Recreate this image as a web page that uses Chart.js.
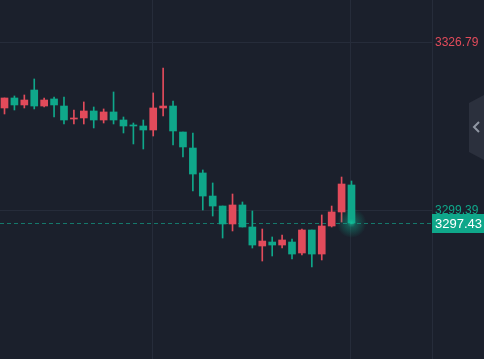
<!DOCTYPE html>
<html>
<head>
<meta charset="utf-8">
<script src="https://cdn.jsdelivr.net/npm/chart.js@4/dist/chart.umd.min.js"></script>
<style>
  html, body { margin: 0; padding: 0; background: #1b202c; }
  #wrap { width: 484px; height: 359px; }
</style>
</head>
<body>
<div id="wrap"><canvas id="kline" width="484" height="359"></canvas></div>
<script>
// Datos de velas (OHLC)
const opens  = [3316.19, 3317.82, 3316.68, 3319.12, 3316.51, 3317.66, 3316.51, 3314.39, 3314.56, 3315.70,
                3314.23, 3315.54, 3314.23, 3313.42, 3313.25, 3312.60, 3316.19, 3316.51, 3312.27, 3309.66,
                3305.59, 3301.83, 3300.20, 3297.27, 3300.37, 3296.78, 3293.68, 3294.33, 3293.84, 3294.33,
                3292.54, 3296.29, 3292.37, 3296.94, 3299.23, 3303.63];
const highs  = [3317.82, 3318.15, 3318.31, 3320.92, 3317.82, 3317.98, 3317.98, 3315.86, 3317.17, 3316.35,
                3316.03, 3318.80, 3314.72, 3313.74, 3314.23, 3318.64, 3322.71, 3317.33, 3312.27, 3312.11,
                3306.08, 3303.96, 3300.20, 3302.16, 3300.86, 3299.39, 3296.45, 3295.15, 3295.47, 3294.82,
                3296.45, 3296.29, 3298.74, 3300.20, 3304.93, 3304.28];
const lows   = [3315.21, 3315.86, 3316.19, 3316.03, 3316.35, 3314.72, 3313.58, 3313.58, 3313.58, 3312.93,
                3313.74, 3313.58, 3312.11, 3310.32, 3309.50, 3311.62, 3314.88, 3310.15, 3308.20, 3302.65,
                3299.55, 3298.57, 3294.98, 3296.13, 3296.78, 3293.35, 3291.23, 3292.05, 3293.35, 3291.56,
                3292.21, 3290.25, 3291.40, 3296.78, 3297.59, 3297.43];
const closes = [3317.82, 3316.68, 3317.49, 3316.51, 3317.49, 3316.68, 3314.23, 3314.56, 3315.70, 3314.23,
                3315.54, 3314.23, 3313.25, 3313.25, 3312.60, 3316.19, 3316.51, 3312.44, 3309.83, 3305.42,
                3301.83, 3300.20, 3297.27, 3300.37, 3296.78, 3293.84, 3294.49, 3293.84, 3294.66, 3292.37,
                3296.29, 3292.37, 3296.94, 3299.23, 3303.79, 3297.43];

// Etiquetas del eje de precios y líneas verticales de tiempo
const priceTicks = [3326.79, 3299.39];
const timeGridAt = [14.88, 34.85];

const UP = '#e24b5b';     // rojo = sube
const DOWN = '#0fa78a';   // verde = baja
const GRID = '#262c3a';

const idx = opens.map((_, i) => i);
const colorOf = i => closes[i] >= opens[i] ? UP : DOWN;
const lastClose = closes[closes.length - 1];

// Línea de precio actual, brillo y etiqueta
const priceMarker = {
    id: 'priceMarker',
    beforeDatasetsDraw(chart) {
        const { ctx, chartArea, scales } = chart;
        const y = Math.round(scales.y.getPixelForValue(lastClose)) + 0.5;
        ctx.save();
        ctx.strokeStyle = 'rgba(20,150,128,0.75)';
        ctx.lineWidth = 1;
        ctx.setLineDash([4, 3]);
        ctx.beginPath();
        ctx.moveTo(chartArea.left, y);
        ctx.lineTo(chartArea.right, y);
        ctx.stroke();
        ctx.restore();
    },
    afterDraw(chart) {
        const { ctx, chartArea, scales } = chart;
        const y = scales.y.getPixelForValue(lastClose);
        const x = scales.x.getPixelForValue(closes.length - 1);

        // brillo del último precio
        ctx.save();
        const g = ctx.createRadialGradient(x, y, 0, x, y, 15);
        g.addColorStop(0, 'rgba(20,200,160,0.8)');
        g.addColorStop(0.3, 'rgba(15,167,138,0.4)');
        g.addColorStop(1, 'rgba(15,167,138,0)');
        ctx.fillStyle = g;
        ctx.beginPath();
        ctx.arc(x, y, 15, 0, Math.PI * 2);
        ctx.fill();

        // etiqueta del precio actual
        const left = chartArea.right;
        ctx.fillStyle = DOWN;
        ctx.fillRect(left, Math.round(y) - 9, chart.width - left, 19);
        ctx.fillStyle = '#ffffff';
        ctx.font = '13px "Liberation Sans", Arial, sans-serif';
        ctx.textBaseline = 'middle';
        ctx.textAlign = 'left';
        ctx.fillText(lastClose.toFixed(2), left + 3, Math.round(y) + 1);

        // pestaña lateral
        ctx.fillStyle = '#2b303d';
        ctx.beginPath();
        ctx.moveTo(484, 95);
        ctx.lineTo(469, 103);
        ctx.lineTo(469, 152);
        ctx.lineTo(484, 160);
        ctx.closePath();
        ctx.fill();
        ctx.strokeStyle = '#9097a3';
        ctx.lineWidth = 2;
        ctx.beginPath();
        ctx.moveTo(479, 122);
        ctx.lineTo(474, 127);
        ctx.lineTo(479, 132);
        ctx.stroke();
        ctx.restore();
    }
};

new Chart(document.getElementById('kline'), {
    type: 'bar',
    data: {
        datasets: [{
            label: 'Cuerpo',
            data: idx.map(i => ({ x: i, y: [opens[i], closes[i]] })),
            backgroundColor: idx.map(colorOf),
            barThickness: 7,
            minBarLength: 1,
            grouped: false,
            borderWidth: 0,
            order: 0
        }, {
            label: 'Mecha',
            data: idx.map(i => ({ x: i, y: [lows[i], highs[i]] })),
            backgroundColor: idx.map(colorOf),
            barThickness: 1,
            grouped: false,
            borderWidth: 0,
            order: 1
        }]
    },
    options: {
        responsive: false,
        animation: false,
        layout: { padding: 0 },
        plugins: {
            legend: { display: false },
            tooltip: { enabled: false }
        },
        scales: {
            x: {
                type: 'linear',
                offset: false,
                min: -0.454,
                max: 43.12,
                afterBuildTicks: s => { s.ticks = timeGridAt.map(v => ({ value: v })); },
                afterFit: s => { s.height = 0; s.paddingLeft = 0; s.paddingRight = 0; },
                ticks: { display: false },
                grid: { color: GRID, drawTicks: false, offset: false },
                border: { display: false }
            },
            y: {
                position: 'right',
                min: 3275.25,
                max: 3333.80,
                afterBuildTicks: s => { s.ticks = priceTicks.map(v => ({ value: v })); },
                afterFit: s => { s.width = 52; s.paddingTop = 0; s.paddingBottom = 0; },
                ticks: {
                    padding: 3,
                    color: ctx => ctx.index === 0 ? UP : DOWN,
                    font: { family: '"Liberation Sans", Arial, sans-serif', size: 12 },
                    callback: v => v.toFixed(2)
                },
                grid: { color: GRID, drawTicks: false },
                border: { display: true, color: GRID }
            }
        }
    },
    plugins: [priceMarker]
});
</script>
</body>
</html>
